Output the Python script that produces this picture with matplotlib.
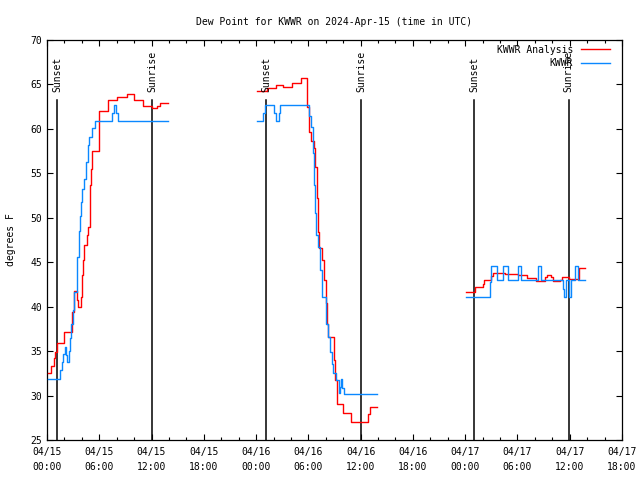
import numpy as np
import matplotlib
matplotlib.use("Agg")
import matplotlib.pyplot as plt
from matplotlib.ticker import MultipleLocator

# Hours since 2024-04-15 00:00 UTC ; dew point in F
ana_d1_t = [0.08, 0.46, 0.75, 0.95, 1.15, 1.95, 2.9, 3.05, 3.45, 3.6, 3.85, 3.98, 4.1, 4.2, 4.6, 4.75, 4.9, 5.0, 5.15, 5.95, 6.95, 8.05, 9.15, 10.0, 11.0, 12.0, 12.6, 13.0, 13.89]
ana_d1_v = [32.5, 33.3, 34.2, 34.9, 35.9, 37.2, 39.4, 41.8, 40.8, 40.0, 41.1, 43.6, 45.3, 46.9, 48.1, 49.0, 53.7, 55.5, 57.5, 62.0, 63.2, 63.6, 63.9, 63.2, 62.6, 62.4, 62.6, 62.9, 62.9]

obs_d1_t = [0.08, 1.49, 1.7, 1.85, 2.05, 2.2, 2.35, 2.5, 2.65, 2.8, 2.95, 3.1, 3.4, 3.5, 3.65, 3.8, 3.9, 4.05, 4.2, 4.45, 4.5, 4.65, 4.7, 4.85, 5.2, 5.5, 7.45, 7.65, 7.95, 8.1, 13.89]
obs_d1_v = [31.9, 32.9, 33.8, 34.7, 35.5, 34.6, 33.8, 35.0, 36.5, 38.1, 39.6, 41.7, 43.6, 45.6, 48.5, 50.2, 51.8, 53.2, 54.4, 55.4, 56.3, 57.3, 58.2, 59.1, 60.1, 60.9, 61.8, 62.7, 61.8, 60.9, 60.9]

ana_d2_t = [24.07, 25.2, 26.3, 27.1, 28.1, 29.1, 29.9, 30.05, 30.27, 30.6, 30.8, 30.97, 31.1, 31.22, 31.6, 31.8, 31.98, 32.15, 32.3, 32.94, 33.09, 33.25, 33.95, 34.9, 36.9, 37.05, 37.84]
ana_d2_v = [64.3, 64.6, 64.9, 64.7, 65.2, 65.7, 62.5, 59.7, 58.6, 57.8, 55.7, 52.2, 48.4, 46.6, 45.25, 43.0, 40.4, 38.1, 36.6, 34.0, 31.75, 29.1, 28.0, 27.0, 27.9, 28.75, 28.75]

obs_d2_t = [24.07, 24.85, 25.0, 26.1, 26.25, 26.6, 26.75, 30.1, 30.3, 30.5, 30.62, 30.7, 30.8, 30.9, 31.05, 31.3, 31.6, 32.0, 32.25, 32.45, 32.7, 32.8, 33.15, 33.5, 33.65, 33.75, 33.9, 34.1, 37.84]
obs_d2_v = [60.9, 61.8, 62.7, 61.8, 60.9, 61.8, 62.7, 61.5, 60.25, 57.25, 55.5, 53.7, 50.5, 48.1, 46.75, 44.1, 41.1, 38.1, 36.6, 34.9, 33.5, 32.5, 31.75, 30.25, 31.0, 31.9, 30.9, 30.2, 30.2]

ana_d3_t = [48.09, 49.1, 50.0, 50.2, 51.0, 51.16, 52.6, 54.1, 55.1, 56.1, 57.2, 57.36, 57.9, 58.12, 58.9, 59.1, 59.95, 61.1, 61.75]
ana_d3_v = [41.6, 42.2, 42.6, 43.0, 43.4, 43.8, 43.7, 43.6, 43.2, 42.9, 43.3, 43.6, 43.3, 42.9, 43.0, 43.3, 43.1, 44.4, 44.4]

obs_d3_t = [48.09, 50.9, 51.0, 51.6, 52.3, 52.9, 54.1, 54.4, 56.35, 56.65, 59.2, 59.3, 59.55, 59.95, 60.2, 60.6, 61.0, 61.75]
obs_d3_v = [41.05, 42.8, 44.6, 43.0, 44.6, 43.0, 44.6, 43.0, 44.6, 43.0, 42.0, 41.1, 43.0, 41.1, 43.0, 44.6, 43.0, 43.0]

sunset_t = [1.15, 25.14, 49.0]
sunrise_t = [12.05, 36.04, 59.9]

tick_hours = list(range(0, 67, 6))
tick_labels = ["04/15\n00:00", "04/15\n06:00", "04/15\n12:00", "04/15\n18:00",
               "04/16\n00:00", "04/16\n06:00", "04/16\n12:00", "04/16\n18:00",
               "04/17\n00:00", "04/17\n06:00", "04/17\n12:00", "04/17\n18:00"]

plt.rcParams['font.family'] = ['DejaVu Sans Mono']
plt.rcParams['font.size'] = 7

fig = plt.figure(figsize=(6.4, 4.8), dpi=100)
ax = fig.add_axes([47/640, 40/480, 575/640, 400/480])

RED = '#ff0000'
BLUE = '#0a88ff'

for i, (t, v) in enumerate([(ana_d1_t, ana_d1_v), (ana_d2_t, ana_d2_v), (ana_d3_t, ana_d3_v)]):
    ax.plot(t, v, drawstyle='steps-post', color=RED, lw=1.0,
            label='KWWR Analysis' if i == 0 else None, zorder=3)
for i, (t, v) in enumerate([(obs_d1_t, obs_d1_v), (obs_d2_t, obs_d2_v), (obs_d3_t, obs_d3_v)]):
    ax.plot(t, v, drawstyle='steps-post', color=BLUE, lw=1.0,
            label='KWWR' if i == 0 else None, zorder=3)

for t in sunset_t:
    ax.plot([t, t], [25, 63.25], color='black', lw=1.1, zorder=2)
    ax.text(t, 64.1, 'Sunset', rotation=90, ha='center', va='bottom', fontsize=7)
for t in sunrise_t:
    ax.plot([t, t], [25, 63.25], color='black', lw=1.1, zorder=2)
    ax.text(t, 64.1, 'Sunrise', rotation=90, ha='center', va='bottom', fontsize=7)

ax.set_xlim(0, 66)
ax.set_ylim(25, 70)
ax.set_xticks(tick_hours)
ax.set_xticklabels(tick_labels, linespacing=1.6)
ax.xaxis.set_minor_locator(MultipleLocator(2))
ax.yaxis.set_major_locator(MultipleLocator(5))
ax.tick_params(which='both', direction='in', top=True, right=True, width=0.8)
ax.tick_params(which='major', length=4)
ax.tick_params(which='minor', length=2.5)
ax.tick_params(axis='x', pad=5)
for s in ax.spines.values():
    s.set_linewidth(0.9)

ax.set_ylabel('degrees F', labelpad=10)
ax.set_title('Dew Point for KWWR on 2024-Apr-15 (time in UTC)', fontsize=7, pad=11)

leg = ax.legend(loc='upper right', bbox_to_anchor=(0.988, 1.0), frameon=False,
                markerfirst=False, handlelength=3.0, fontsize=7, labelspacing=0.35,
                borderaxespad=0.1, handletextpad=0.8)

fig.savefig('out.png', dpi=100)
